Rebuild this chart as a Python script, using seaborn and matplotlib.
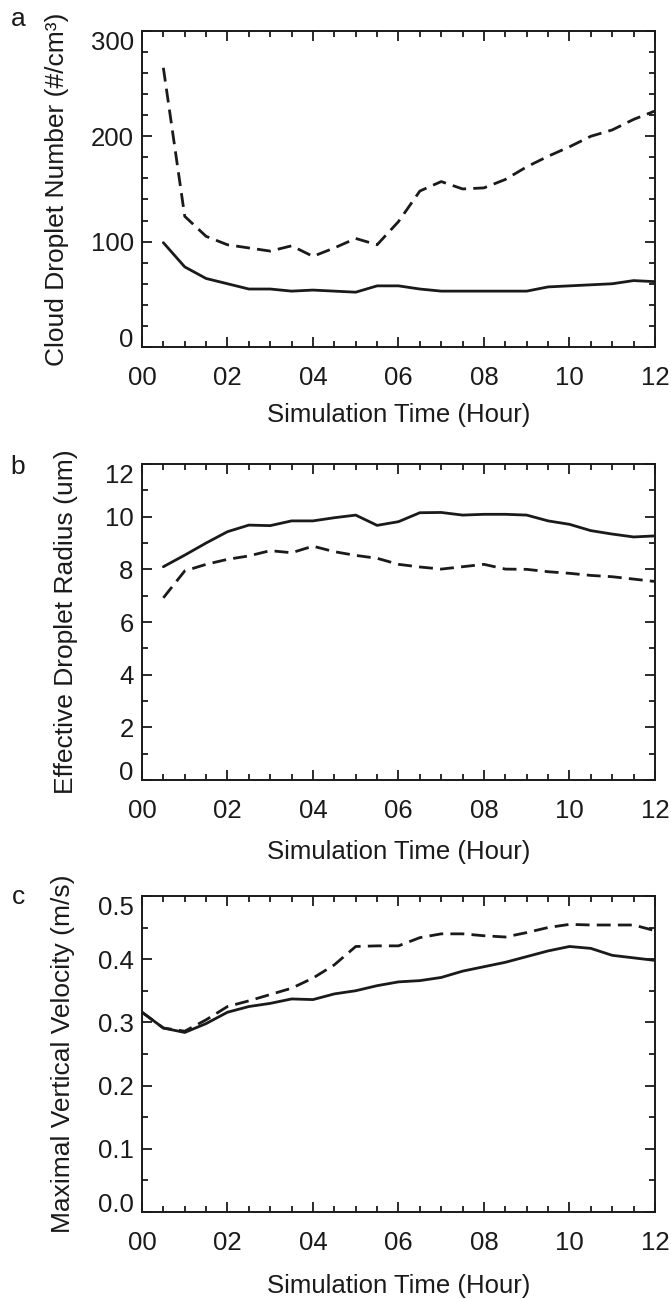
import numpy as np
import pandas as pd
import matplotlib
matplotlib.use("Agg")
import matplotlib.pyplot as plt
from matplotlib.ticker import FixedLocator, MultipleLocator, FormatStrFormatter
import seaborn as sns

# simulation hours
hours_ab = [0.5, 1.0, 1.5, 2.0, 2.5, 3.0, 3.5, 4.0, 4.5, 5.0, 5.5, 6.0,
            6.5, 7.0, 7.5, 8.0, 8.5, 9.0, 9.5, 10.0, 10.5, 11.0, 11.5, 12.0]
hours_c = [0.0] + hours_ab

# panel a: cloud droplet number (#/cm3)
ndrop_solid = [99, 76, 65, 60, 55, 55, 53, 54, 53, 52, 58, 58,
               55, 53, 53, 53, 53, 53, 57, 58, 59, 60, 63, 62]
ndrop_dashed = [265, 124, 105, 97, 94, 91, 96, 86, 94, 103, 97, 119,
                148, 157, 150, 151, 159, 171, 181, 190, 200, 206, 216, 224]

# panel b: effective droplet radius (um)
reff_solid = [8.10, 8.54, 9.00, 9.43, 9.68, 9.66, 9.84, 9.84, 9.96, 10.06, 9.67, 9.81,
              10.15, 10.16, 10.06, 10.09, 10.09, 10.06, 9.84, 9.71, 9.47, 9.34, 9.23, 9.27]
reff_dashed = [6.92, 7.94, 8.19, 8.38, 8.51, 8.71, 8.63, 8.88, 8.67, 8.53, 8.42, 8.19,
               8.09, 8.01, 8.10, 8.19, 8.01, 8.00, 7.91, 7.85, 7.77, 7.72, 7.63, 7.54]

# panel c: maximal vertical velocity (m/s)
wmax_solid = [0.316, 0.291, 0.284, 0.298, 0.316, 0.325, 0.330, 0.337, 0.336, 0.345, 0.350, 0.358, 0.364,
              0.366, 0.371, 0.381, 0.388, 0.395, 0.404, 0.413, 0.420, 0.417, 0.406, 0.402, 0.398]
wmax_dashed = [0.316, 0.291, 0.286, 0.304, 0.325, 0.334, 0.344, 0.354, 0.370, 0.391, 0.420, 0.421, 0.421,
               0.434, 0.440, 0.440, 0.437, 0.435, 0.442, 0.450, 0.455, 0.454, 0.454, 0.454, 0.445]

sns.set_theme(style="ticks")
plt.rcParams["font.family"] = ["Liberation Sans", "DejaVu Sans"]
plt.rcParams["axes.linewidth"] = 1.4

fig = plt.figure(figsize=(6.71, 12.99), dpi=100)

FS = 18.5

panels = [
    dict(x=hours_ab, s=ndrop_solid, d=ndrop_dashed, bottom=0.7329, ylim=(0, 300),
         yticks=[0, 100, 200, 300], yminor=20, fmt="%d",
         ylabel="Cloud Droplet Number (#/cm³)", ylx=-0.166, xly=-0.215, tag="a", tagy=0.985),
    dict(x=hours_ab, s=reff_solid, d=reff_dashed, bottom=0.3995, ylim=(0, 12),
         yticks=[0, 2, 4, 6, 8, 10, 12], yminor=1, fmt="%d",
         ylabel="Effective Droplet Radius (um)", ylx=-0.148, xly=-0.227, tag="b", tagy=0.6405),
    dict(x=hours_c, s=wmax_solid, d=wmax_dashed, bottom=0.0670, ylim=(0, 0.5),
         yticks=[0.0, 0.1, 0.2, 0.3, 0.4, 0.5], yminor=0.05, fmt="%.1f",
         ylabel="Maximal Vertical Velocity (m/s)", ylx=-0.154, xly=-0.235, tag="c", tagy=0.3095),
]

for p in panels:
    ax = fig.add_axes([0.2116, p["bottom"], 0.7645, 0.2433])
    df = pd.DataFrame({
        "hour": list(p["x"]) * 2,
        "value": list(p["s"]) + list(p["d"]),
        "run": ["solid"] * len(p["x"]) + ["dashed"] * len(p["x"]),
    })
    sns.lineplot(data=df, x="hour", y="value", style="run",
                 dashes={"solid": "", "dashed": (5.0, 2.6)},
                 color="k", lw=2.0, estimator=None, legend=False, ax=ax)

    ax.set_xlim(0, 12)
    ax.set_ylim(*p["ylim"])
    ax.xaxis.set_major_locator(FixedLocator([0, 2, 4, 6, 8, 10, 12]))
    ax.xaxis.set_major_formatter(FormatStrFormatter("%02d"))
    ax.xaxis.set_minor_locator(MultipleLocator(0.5))
    ax.yaxis.set_major_locator(FixedLocator(p["yticks"]))
    ax.yaxis.set_major_formatter(FormatStrFormatter(p["fmt"]))
    ax.yaxis.set_minor_locator(MultipleLocator(p["yminor"]))

    ax.tick_params(which="both", direction="in", top=True, right=True,
                   width=1.3, color="k", labelsize=FS, labelcolor="k")
    ax.tick_params(which="major", length=7)
    ax.tick_params(which="minor", length=4)
    ax.tick_params(axis="x", which="major", pad=14)
    ax.tick_params(axis="y", which="major", pad=6)

    ax.set_xlabel("Simulation Time (Hour)", fontsize=FS, color="k")
    ax.set_ylabel(p["ylabel"], fontsize=FS + 0.5, color="k")
    ax.xaxis.set_label_coords(0.5, p["xly"])
    ax.xaxis.label.set_va("center")
    ax.yaxis.set_label_coords(p["ylx"], 0.5)
    ax.yaxis.label.set_va("center")

    # end labels sit inside the axis range, as in the original
    ylabs = ax.get_yticklabels()
    ylabs[0].set_va("baseline")
    ylabs[-1].set_va("top")

    for sp in ax.spines.values():
        sp.set_color("k")

    fig.text(0.027, p["tagy"], p["tag"], fontsize=19, ha="center", va="center", color="k")

fig.savefig("out.png", dpi=100, facecolor="white")
